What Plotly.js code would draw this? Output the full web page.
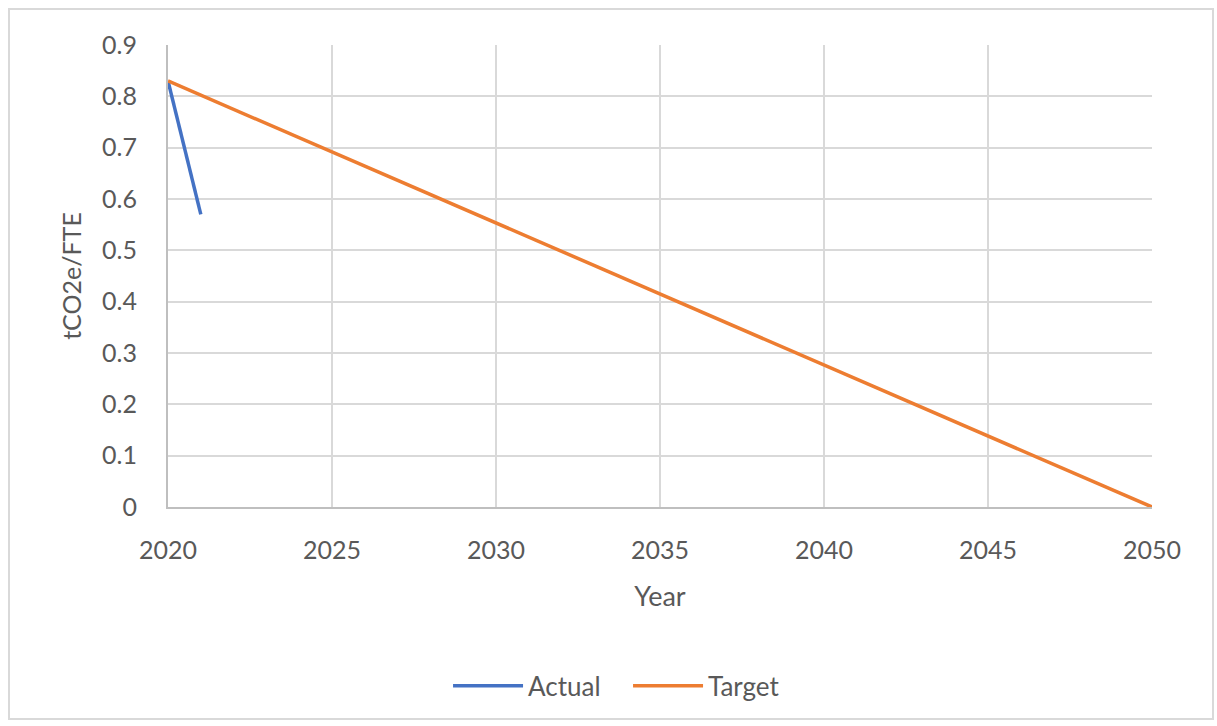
<!DOCTYPE html>
<html>
<head>
<meta charset="utf-8">
<script src="https://cdn.plot.ly/plotly-3.0.1.min.js"></script>
<style>
html,body{margin:0;padding:0;background:#fff;}
#wrap{position:relative;width:1217px;height:726px;}
#chart{position:absolute;left:0;top:0;width:1217px;height:726px;}
#frame{position:absolute;left:8px;top:8px;width:1206px;height:712px;border:2px solid #d9d9d9;box-sizing:border-box;pointer-events:none;}
</style>
</head>
<body>
<div id="wrap"><div id="chart"></div><div id="frame"></div></div>
<script>
const actualYears = [2020, 2021];
const actualValues = [0.83, 0.57];
const targetYears = [2020, 2050];
const targetValues = [0.83, 0];
const xTicks = [2020, 2025, 2030, 2035, 2040, 2045, 2050];
const yTicks = [0, 0.1, 0.2, 0.3, 0.4, 0.5, 0.6, 0.7, 0.8, 0.9];
const yTickLabels = ['0', '0.1', '0.2', '0.3', '0.4', '0.5', '0.6', '0.7', '0.8', '0.9'];

const font = 'Lato, "Open Sans", sans-serif';
const traces = [
  {x: actualYears, y: actualValues, name: 'Actual', type: 'scatter', mode: 'lines',
   line: {color: '#4472C4', width: 3.5}},
  {x: targetYears, y: targetValues, name: 'Target', type: 'scatter', mode: 'lines',
   line: {color: '#ED7D31', width: 3.5}}
];
const layout = {
  width: 1217, height: 726,
  margin: {l: 168, r: 65, t: 45, b: 219},
  paper_bgcolor: '#fff', plot_bgcolor: '#fff',
  font: {family: font, color: '#595959', size: 24},
  showlegend: true,
  legend: {orientation: 'h', x: 0.2846, xanchor: 'left', y: -0.387, yanchor: 'middle',
           font: {family: font, size: 26, color: '#595959'}, itemwidth: 70,
           entrywidth: 95, entrywidthmode: 'pixels', traceorder: 'normal'},
  xaxis: {range: [2020, 2050], tickvals: xTicks, ticktext: xTicks.map(String),
          showgrid: true, gridcolor: '#d9d9d9', gridwidth: 2,
          showline: true, linecolor: '#bfbfbf', linewidth: 2, zeroline: false,
          ticks: '', ticklabelstandoff: 20, tickfont: {size: 25, color: '#595959'},
          title: {text: 'Year', font: {size: 27, color: '#595959'}, standoff: 24}},
  yaxis: {range: [0, 0.9], tickvals: yTicks, ticktext: yTickLabels,
          showgrid: true, gridcolor: '#d9d9d9', gridwidth: 2,
          showline: true, linecolor: '#bfbfbf', linewidth: 2, zeroline: false,
          ticks: '', ticklabelstandoff: 24, tickfont: {size: 25, color: '#595959'},
          title: {text: 'tCO2e/FTE', font: {size: 25, color: '#595959'}, standoff: 13}}
};
Plotly.newPlot('chart', traces, layout, {displayModeBar: false, staticPlot: true});
</script>
</body>
</html>
